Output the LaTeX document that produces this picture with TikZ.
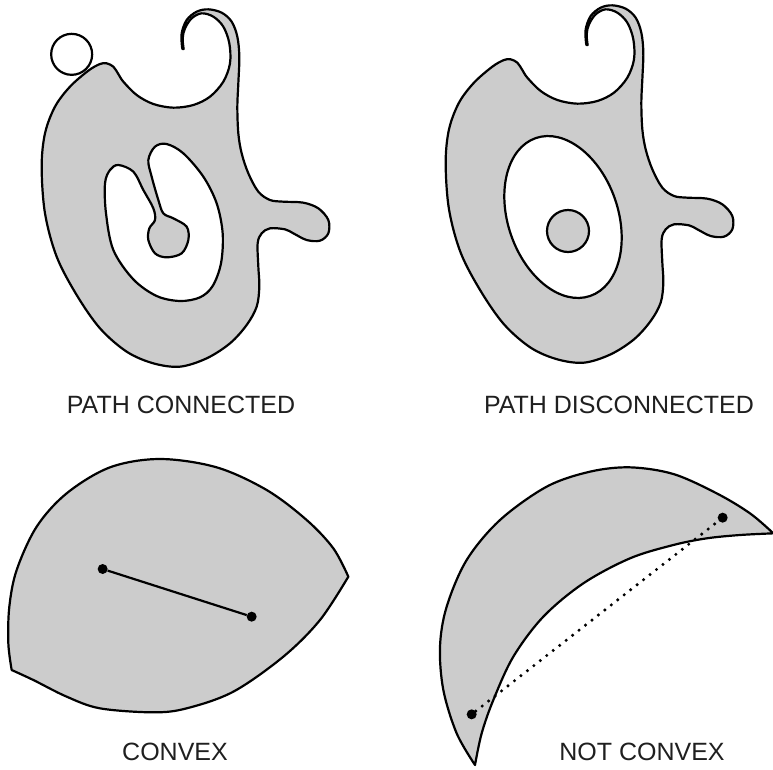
\documentclass[tikz,border=0pt]{standalone}
\usepackage{fontspec}
\setmainfont{Liberation Sans}
\definecolor{shapegray}{RGB}{204,204,204}
\newcommand{\myblobshape}{%
\draw[shapeline] plot[smooth,tension=0.55] coordinates {
(548,147) (546,140) (545,100) (560,60) (590,35) (625,28) (665,38) (695,65) (712,110) (718,170) (715,250) (712,320) (715,400) (725,460) (745,520) (775,575) (810,600) (850,605) (910,608) (955,625) (985,660) (985,700) (960,722) (920,720) (880,700) (855,688) (810,685) (785,700) (773,730) (775,800) (778,860) (770,920) (740,975) (690,1030) (620,1075) (540,1100) (460,1090) (380,1055) (300,985) (230,885) (170,770) (135,640) (125,500) (135,400) (165,320) (210,260) (265,212) (300,192) (320,190) (340,200) (355,222) (370,245) (410,285) (460,312) (520,323) (580,315) (630,290) (670,245) (690,190) (688,130) (670,80) (640,50) (605,40) (575,55) (555,85) (548,115) (551,147)} -- cycle;}
\begin{document}
\begin{tikzpicture}[x=1pt,y=-1pt,line join=round,
  shapeline/.style={draw=black,line width=2.2pt,fill=shapegray},
  holeline/.style={draw=black,line width=2.2pt,fill=white},
  lbl/.style={font=\fontsize{25}{29}\selectfont,text=black!88,inner sep=0pt},
  dotpt/.style={circle,fill=black,inner sep=0pt,minimum size=10pt}]
\useasboundingbox (0,0) rectangle (773,769);

% ---- top left: path connected
\begin{scope}[scale=1/3]
\myblobshape
\draw[holeline] plot[smooth cycle,tension=0.55] coordinates {
(355,495) (400,515) (430,570) (460,625) (465,660) (448,685) (445,720) (465,760) (500,772) (545,760) (565,720) (560,680) (520,655) (490,640) (475,600) (455,530) (445,480) (465,440) (500,432) (550,460) (610,530) (650,610) (668,700) (663,790) (638,858) (600,892) (540,903) (470,888) (400,838) (340,750) (318,640) (315,550) (330,510)};
\node[circle,draw=black,line width=2.2pt,fill=white,minimum size=41pt,inner sep=0pt] (ring) at (215,163) {};
\end{scope}

% ---- top right: path disconnected
\begin{scope}[shift={(404,-4)},scale=1/3]
\myblobshape
\end{scope}
\draw[holeline,rotate around={19:(563,217)}] (563,217) ellipse [x radius=55,y radius=83.5];
\node[circle,draw=black,line width=2.2pt,fill=shapegray,minimum size=42pt,inner sep=0pt] (disk) at (568,231) {};

% ---- bottom left: convex
\begin{scope}[shift={(0,380)},scale=1/3]
\draw[shapeline] plot[smooth,tension=0.55] coordinates {
(1045,590) (1000,505) (920,420) (800,330) (650,262) (480,237) (330,262) (200,340) (110,440) (50,570) (28,680) (25,790) (35,870)}
-- plot[smooth,tension=0.55] coordinates {
(35,870) (100,900) (200,950) (300,985) (460,997) (560,985) (700,935) (850,830) (960,720) (1045,590)} -- cycle;
\node[dotpt] (c1) at (308,567) {};
\node[dotpt] (c2) at (755,710) {};
\end{scope}
\draw[line width=2.2pt] (c1) -- (c2);

% ---- bottom right: not convex
\begin{scope}[shift={(390,380)},scale=1/3]
\draw[shapeline] plot[smooth,tension=0.55] coordinates {
(255,1155) (200,1060) (160,930) (150,800) (170,680) (230,540) (330,420) (470,320) (600,275) (720,262) (850,282) (980,340) (1080,400) (1150,460)}
-- plot[smooth,tension=0.55] coordinates {
(1150,460) (1050,465) (950,475) (850,495) (720,535) (580,610) (460,710) (370,830) (310,960) (275,1060) (255,1155)} -- cycle;
\node[dotpt] (n1) at (245,1003) {};
\node[dotpt] (n2) at (998,413) {};
\end{scope}
\draw[line width=3.4pt,line cap=round,dash pattern=on 0pt off 8.2pt] (n1) -- (n2);

% ---- labels
\node[lbl] (t1) at (181,405) {PATH CONNECTED};
\node[lbl] (t2) at (619,405) {PATH DISCONNECTED};
\node[lbl] (t3) at (175,752) {CONVEX};
\node[lbl] (t4) at (642,752) {NOT CONVEX};
\end{tikzpicture}
\end{document}
